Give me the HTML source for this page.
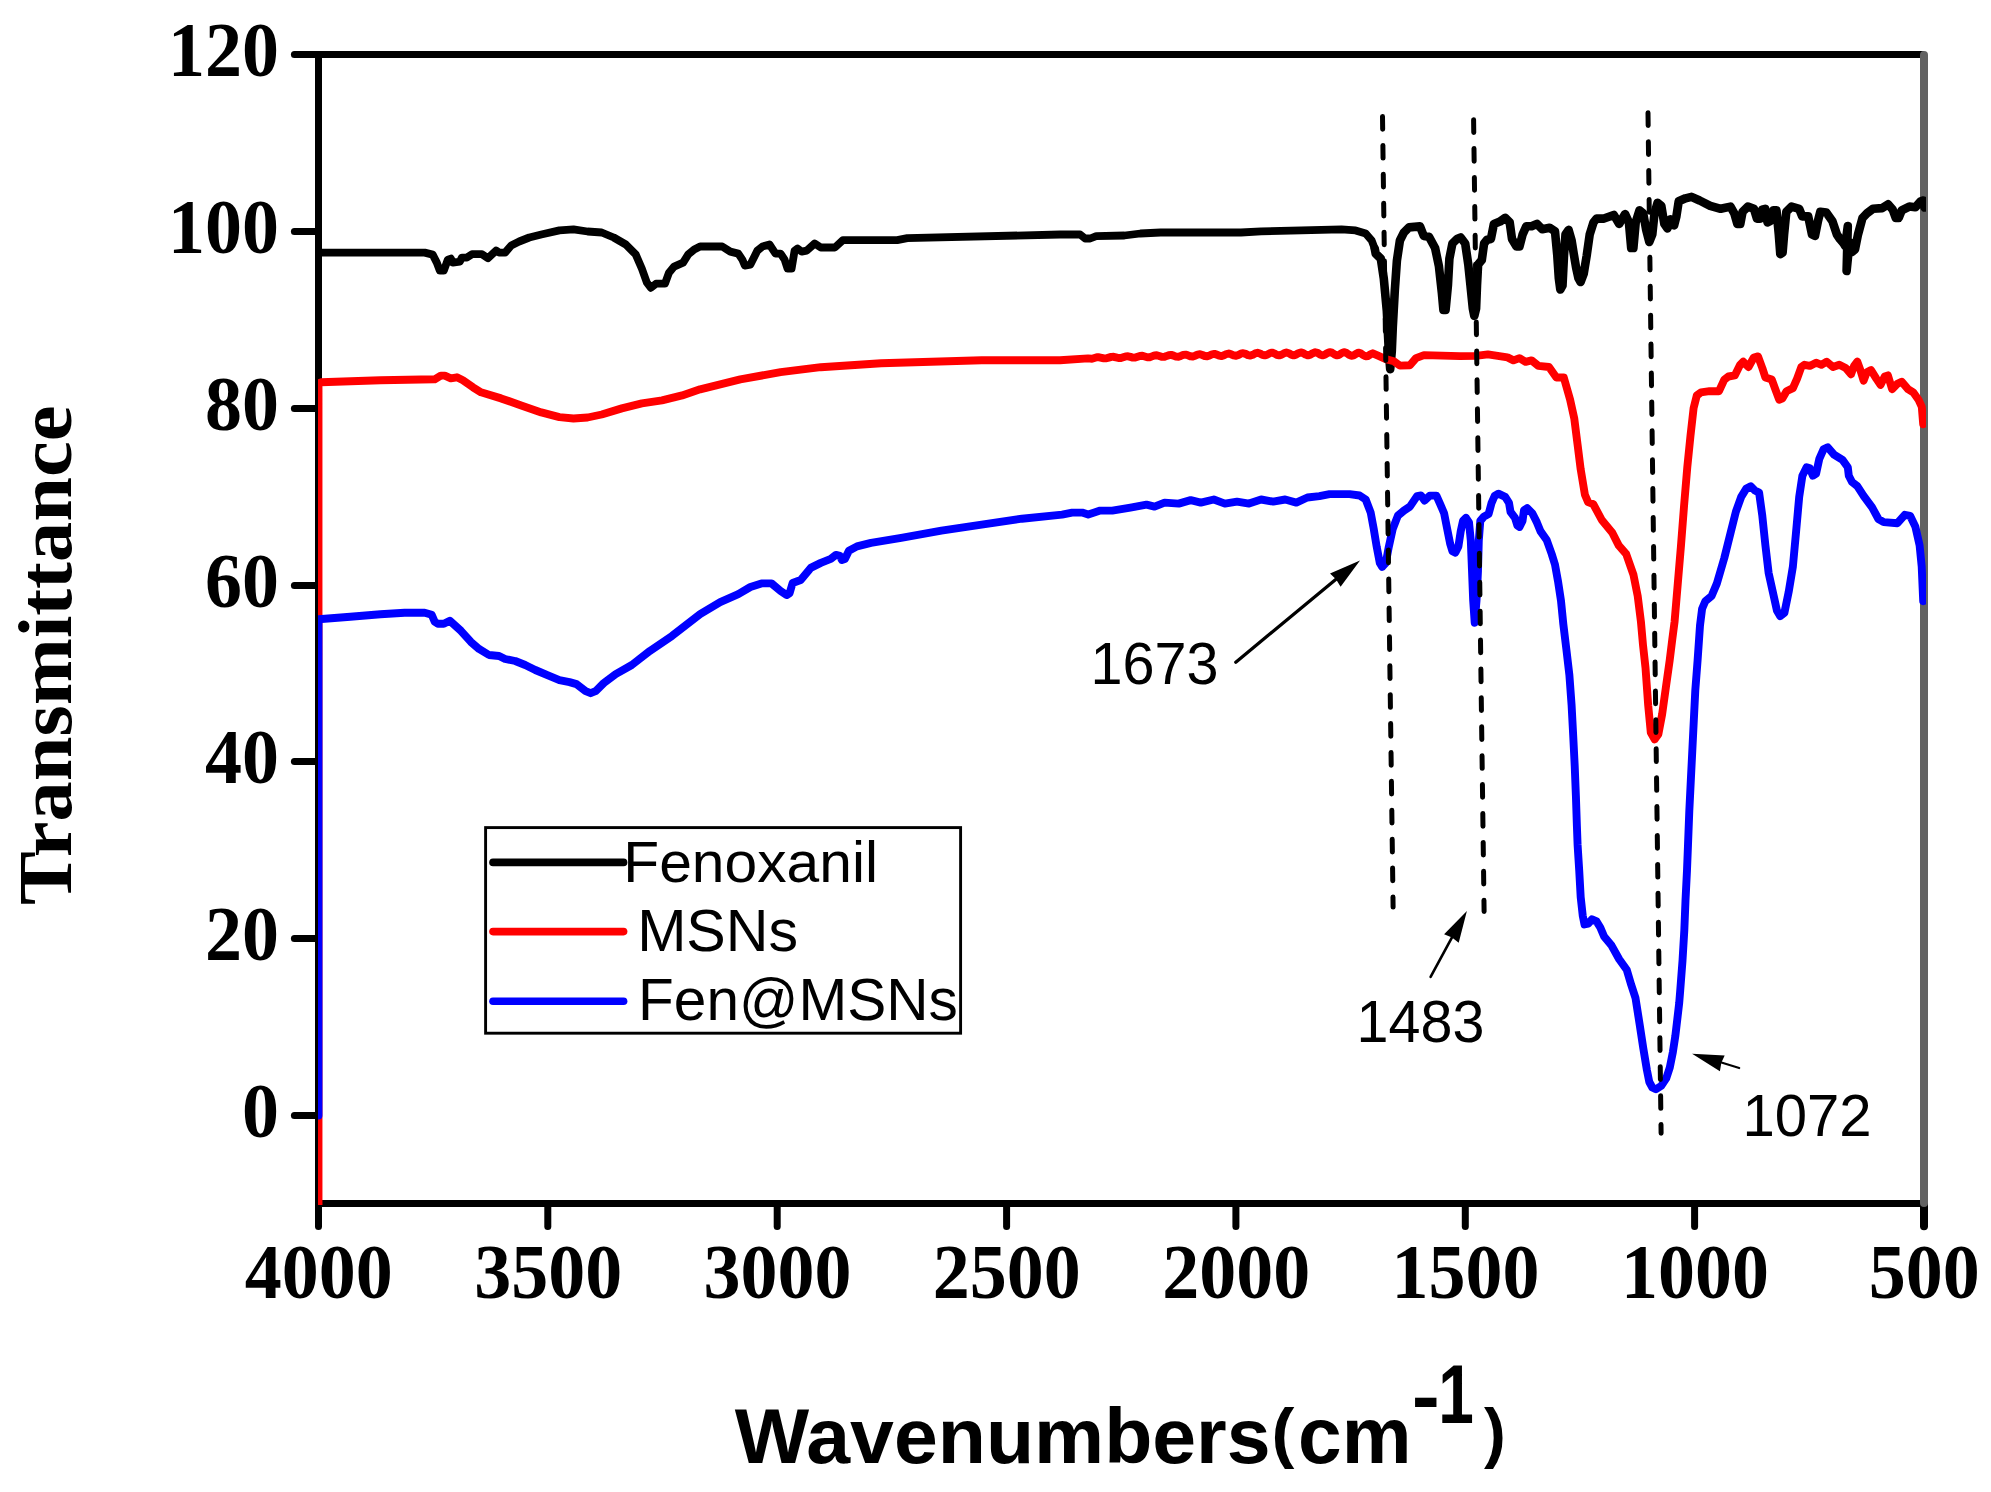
<!DOCTYPE html>
<html lang="en"><head><meta charset="utf-8"><title>FTIR spectra</title>
<style>html,body{margin:0;padding:0;background:#fff}svg{display:block}.tl{font-family:"Liberation Serif",serif;font-weight:bold;font-size:74px;fill:#000}.an{font-family:"Liberation Sans",sans-serif;font-size:55px;fill:#000}.xl{font-family:"Liberation Sans",sans-serif;font-weight:bold;font-size:80px;fill:#000}.yl{font-family:"Liberation Serif",serif;font-weight:bold;font-size:80px;fill:#000}</style></head><body>
<svg width="1991" height="1492" viewBox="0 0 1991 1492" shape-rendering="geometricPrecision">
<rect width="1991" height="1492" fill="#fff"/>
<g stroke="#000" stroke-width="7.0" fill="none">
<line x1="318.5" y1="51.0" x2="318.5" y2="1207.0"/>
<line x1="318.5" y1="54.5" x2="1924.0" y2="54.5"/>
<line x1="318.5" y1="1203.5" x2="1924.0" y2="1203.5"/>
</g>
<g stroke="#000" stroke-width="7.0" stroke-linecap="round" fill="none">
<line x1="294.4" y1="1115.5" x2="318.5" y2="1115.5"/>
<line x1="294.4" y1="938.5" x2="318.5" y2="938.5"/>
<line x1="294.4" y1="761.5" x2="318.5" y2="761.5"/>
<line x1="294.4" y1="585.5" x2="318.5" y2="585.5"/>
<line x1="294.4" y1="408.5" x2="318.5" y2="408.5"/>
<line x1="294.4" y1="231.5" x2="318.5" y2="231.5"/>
<line x1="294.4" y1="54.5" x2="318.5" y2="54.5"/>
<line x1="1694.6" y1="1203.5" x2="1694.6" y2="1226.6"/>
<line x1="1465.3" y1="1203.5" x2="1465.3" y2="1226.6"/>
<line x1="1235.9" y1="1203.5" x2="1235.9" y2="1226.6"/>
<line x1="1006.6" y1="1203.5" x2="1006.6" y2="1226.6"/>
<line x1="777.2" y1="1203.5" x2="777.2" y2="1226.6"/>
<line x1="547.8" y1="1203.5" x2="547.8" y2="1226.6"/>
<line x1="318.5" y1="1203.5" x2="318.5" y2="1226.6"/>
<line x1="1924.0" y1="1203.5" x2="1924.0" y2="1226.2" stroke-width="8"/>
</g>
<line x1="1924.0" y1="55" x2="1924.0" y2="1203" stroke="#626262" stroke-width="8" stroke-linecap="round"/>
<clipPath id="pc"><rect x="318" y="50" width="1608" height="1155"/></clipPath>
<g fill="none" stroke-linejoin="round" stroke-linecap="round" clip-path="url(#pc)">
<polyline stroke="#000" stroke-width="7.8" points="318.5,252.6 424.7,252.6 432.7,254.6 436.8,262.6 439.8,270.7 443.8,270.7 447.8,259.6 450.8,258.6 452.8,262.6 459.9,261.6 461.9,257.6 466.9,257.6 472.0,254.2 482.0,254.2 488.0,258.2 496.1,250.6 499.1,252.6 505.1,252.6 511.2,245.5 519.2,241.5 529.3,237.5 541.3,234.5 559.4,230.4 573.5,229.4 587.6,231.5 601.7,232.5 613.7,237.5 625.8,244.5 635.8,254.6 641.9,268.7 646.9,282.7 650.9,287.8 656.0,283.7 665.0,283.7 669.0,272.7 674.1,266.6 683.1,262.6 688.1,254.6 694.2,249.5 700.1,246.5 722.2,246.5 730.3,251.6 738.3,253.6 742.3,259.6 744.8,265.6 750.4,264.6 757.4,250.6 762.5,246.5 769.5,244.5 775.5,253.6 780.6,253.6 784.6,259.6 787.6,268.7 791.6,268.7 794.6,250.6 797.6,248.5 801.7,251.6 806.7,250.6 814.7,243.5 820.8,247.5 834.9,247.5 842.9,240.1 850.9,240.1 897.2,240.1 907.3,238.1 1060.0,234.5 1080.1,234.5 1085.1,238.5 1090.2,238.5 1096.2,236.1 1124.4,235.5 1140.4,233.5 1160.6,232.5 1241.0,232.5 1261.1,231.4 1301.3,230.4 1341.5,229.4 1355.6,230.4 1365.7,233.5 1371.7,240.5 1374.7,248.5"/>
<polyline stroke="#000" stroke-width="8.6" points="1374.7,248.5 1375.7,253.6 1380.8,258.6 1383.8,278.7 1386.8,310.9 1388.8,351.1 1390.2,369.2 1391.8,351.1 1392.8,327.0 1394.8,290.8 1396.9,260.6 1399.9,240.5 1403.9,232.5 1408.9,227.4 1420.0,226.4 1423.8,236.0 1429.0,236.7 1435.1,248.0 1438.9,266.1 1441.9,293.3 1443.4,309.9 1445.6,309.9 1447.9,285.7 1449.4,258.6 1452.4,243.5 1457.0,239.0 1460.7,237.5 1465.2,243.5 1468.3,264.6 1470.5,285.7 1472.8,308.4 1474.3,315.9 1476.1,308.4 1477.0,285.7 1478.1,264.6 1481.8,260.1 1484.1,243.5 1487.1,239.7 1490.9,239.0 1493.9,223.9 1499.9,221.6 1505.2,217.9 1509.7,222.4 1512.0,239.0 1516.5,246.5 1519.5,246.5 1522.6,234.5 1526.3,226.2 1531.6,226.2 1536.9,223.9 1542.2,229.2 1549.7,227.7 1555.0,231.4 1557.3,255.6 1558.8,278.2 1560.3,289.5 1562.5,285.7 1564.0,255.6 1565.5,234.5 1568.6,229.9 1571.6,240.5 1573.8,254.1 1576.1,267.6 1578.4,278.2 1580.6,282.0 1583.7,273.7 1586.7,255.6 1589.7,234.5 1593.5,222.4 1596.5,218.6 1604.0,218.6 1613.8,214.9 1619.1,223.9 1625.1,214.1 1628.9,222.4 1631.2,248.0 1633.4,248.0 1635.7,222.4 1639.5,210.3 1643.2,213.3 1646.2,229.9 1649.3,242.0 1652.3,234.5 1654.5,213.3 1657.6,202.8 1661.3,205.8 1664.3,223.9 1667.4,228.4 1670.4,219.4 1674.1,225.4 1676.4,216.4 1678.7,201.3 1685.5,198.3 1691.5,196.8 1699.6,200.5 1710.2,205.8 1720.7,208.8 1730.5,206.6 1734.3,213.3 1737.3,223.9 1740.3,223.9 1742.6,211.8 1747.9,206.6 1753.9,208.8 1756.9,218.6 1759.9,218.6 1762.2,209.6 1765.2,208.8 1767.5,222.4 1770.5,220.9 1773.5,210.3 1776.5,210.3 1778.8,234.5 1780.3,254.1 1782.6,252.6 1784.1,234.5 1786.3,211.8 1791.6,206.6 1799.2,208.8 1802.2,216.4 1808.2,216.4 1812.0,234.5 1815.0,236.0 1818.0,220.9 1820.3,211.8 1826.3,212.6 1832.3,220.9 1836.9,234.5 1839.9,239.0 1843.7,243.5 1845.2,246.0 1847.8,226.0 1846.6,271.0 1849.5,242.0 1852.0,252.0 1855.0,249.5 1858.0,234.5 1862.5,217.9 1867.0,213.3 1873.0,208.8 1882.1,208.1 1888.1,204.3 1892.7,209.6 1895.7,217.9 1898.7,217.9 1901.7,210.3 1909.3,206.6 1915.3,207.3 1920.6,201.3 1923.5,200.5 1924.5,207.5 1927.0,204.0"/>
<polyline stroke="#f00" stroke-width="7.9" points="318.5,1206.0 318.5,383.3 321.0,382.3 380.4,380.3 434.7,379.3 440.8,375.6 444.8,375.6 450.8,378.3 456.9,377.3 462.9,380.3 473.0,387.3 481.0,392.3 501.1,398.4 521.2,405.4 541.3,412.4 559.4,417.1 573.5,418.5 587.6,417.5 601.7,414.5 621.8,408.4 641.9,403.4 662.0,400.4 682.1,395.4 700.1,389.3 740.3,379.3 780.6,372.2 820.8,367.2 881.1,363.2 981.7,360.2 1060.0,360.2 1088.0,358.4 1092.0,358.7 1094.4,358.0 1096.8,357.3 1099.2,357.3 1101.6,357.8 1104.0,358.4 1106.4,358.3 1108.8,357.6 1111.2,356.9 1113.6,356.8 1116.0,357.4 1118.4,358.0 1120.8,358.0 1123.2,357.2 1125.6,356.4 1128.0,356.3 1130.4,356.9 1132.8,357.6 1135.2,357.6 1137.6,356.8 1140.0,356.0 1142.4,355.8 1144.8,356.5 1147.2,357.2 1149.6,357.3 1152.0,356.4 1154.4,355.5 1156.8,355.3 1159.2,356.0 1161.6,356.8 1164.0,356.9 1166.4,356.1 1168.8,355.2 1171.2,354.9 1173.6,355.6 1176.0,356.6 1178.4,356.7 1180.8,355.9 1183.2,354.9 1185.6,354.6 1188.0,355.3 1190.4,356.3 1192.8,356.5 1195.2,355.7 1197.6,354.6 1200.0,354.2 1202.4,355.0 1204.8,356.0 1207.2,356.3 1209.6,355.5 1212.0,354.3 1214.4,353.9 1216.8,354.6 1219.2,355.7 1221.6,356.1 1224.0,355.2 1226.4,354.0 1228.8,353.5 1231.2,354.3 1233.6,355.4 1236.0,355.8 1238.4,355.0 1240.8,353.7 1243.2,353.2 1245.6,353.9 1248.0,355.1 1250.4,355.6 1252.8,354.8 1255.2,353.4 1257.6,352.8 1260.0,353.5 1262.4,354.9 1264.8,355.4 1267.2,354.7 1269.6,353.3 1272.0,352.6 1274.4,353.4 1276.8,354.8 1279.2,355.4 1281.6,354.7 1284.0,353.3 1286.4,352.5 1288.8,353.2 1291.2,354.7 1293.6,355.4 1296.0,354.7 1298.4,353.2 1300.8,352.4 1303.2,353.1 1305.6,354.6 1308.0,355.4 1310.4,354.7 1312.8,353.2 1315.2,352.3 1317.6,352.9 1320.0,354.5 1322.4,355.4 1324.8,354.7 1327.2,353.1 1329.6,352.1 1332.0,352.7 1334.4,354.3 1336.8,355.4 1339.2,354.8 1341.6,353.1 1344.0,352.2 1346.4,352.8 1348.8,354.6 1351.2,355.8 1353.6,355.3 1356.0,353.8 1358.4,352.7 1360.8,353.3 1363.2,355.1 1365.6,356.4 1368.0,356.0 1370.4,354.4 1372.8,353.3 1378.0,355.6 1385.8,359.1 1393.8,361.2 1399.9,365.6 1409.9,365.2 1416.0,358.1 1424.0,355.1 1460.0,356.1 1475.8,355.9 1487.9,354.4 1507.5,357.4 1513.5,360.4 1519.5,358.1 1525.6,361.9 1531.6,360.4 1538.4,365.9 1549.0,367.0 1556.4,377.5 1563.8,377.5 1570.1,399.7 1574.3,418.7 1577.5,444.0 1580.7,469.4 1584.9,494.7 1588.1,502.1 1593.3,504.2 1601.8,520.0 1612.3,532.7 1618.7,545.4 1626.1,553.8 1633.5,574.9 1637.7,596.0 1640.9,621.4 1643.0,645.0 1645.5,667.7 1648.2,705.4 1650.8,732.6 1654.6,739.4 1658.4,734.1 1662.1,714.5 1665.9,687.3 1669.7,660.2 1672.2,640.0 1674.6,621.4 1677.8,583.4 1681.0,545.4 1684.1,505.3 1687.3,467.2 1690.5,435.6 1693.6,408.1 1696.8,395.5 1701.0,392.3 1709.5,391.2 1719.0,391.2 1724.3,379.6 1728.5,376.5 1734.8,375.4 1740.1,364.8 1743.3,361.7 1748.5,367.0 1753.8,357.5 1758.0,356.4 1762.3,368.0 1765.4,377.5 1771.8,379.6 1776.0,391.2 1779.2,399.7 1782.3,398.6 1786.5,391.2 1792.9,388.1 1797.1,378.6 1801.3,367.0 1804.5,364.8 1809.8,365.9 1816.1,362.7 1821.4,364.8 1826.7,361.7 1833.0,367.0 1839.3,364.8 1845.7,368.0 1851.0,374.3 1854.1,365.9 1857.3,361.7 1860.4,370.1 1863.6,380.7 1866.8,372.2 1871.0,370.1 1876.3,378.6 1880.5,384.9 1884.7,376.5 1887.9,375.4 1892.1,389.1 1897.4,383.8 1901.6,381.7 1908.0,389.1 1913.2,392.3 1918.5,399.7 1921.8,406.9 1923.2,424.2"/>
<polyline stroke="#00f" stroke-width="7.9" points="318.5,1115.5 318.5,619.2 350.3,616.8 380.4,614.3 404.6,612.7 424.7,612.7 431.7,614.7 434.7,621.8 437.8,623.8 443.8,623.8 449.8,620.8 460.9,630.8 470.9,641.9 479.0,648.9 489.0,655.0 499.1,656.0 505.1,659.0 515.2,661.0 525.2,665.0 535.3,670.0 547.4,675.1 559.4,680.1 569.5,682.1 576.5,684.1 585.6,691.2 590.6,693.2 595.6,691.2 603.7,683.1 615.7,674.1 631.8,665.0 649.9,650.9 672.0,635.9 700.1,614.2 720.2,602.1 738.3,594.1 750.4,587.0 761.4,583.4 771.5,583.4 780.6,591.0 786.6,595.1 789.6,593.1 792.6,583.0 800.7,580.0 810.7,567.9 820.8,562.9 830.8,558.9 835.9,554.9 839.9,555.9 841.9,559.9 844.9,558.9 848.9,550.8 857.0,546.4 871.0,542.8 901.2,537.8 941.4,530.7 981.7,524.7 1021.9,518.7 1062.1,514.6 1072.1,512.6 1082.1,512.6 1088.2,514.6 1100.2,510.6 1112.3,510.6 1130.4,507.6 1146.5,504.6 1154.5,506.6 1164.6,502.6 1178.7,503.6 1190.7,500.1 1200.8,502.6 1213.8,499.5 1224.9,503.6 1237.0,501.6 1249.0,503.6 1261.1,499.5 1273.2,501.6 1285.2,499.5 1296.3,502.6 1307.4,497.5 1319.4,496.1 1329.5,494.1 1349.6,494.1 1359.6,495.5 1365.7,499.5 1370.7,512.6 1373.7,528.7 1376.7,546.8 1379.8,562.9 1382.2,566.9 1385.8,562.9 1388.8,546.8 1392.8,528.7 1397.9,515.6 1403.9,510.6 1409.9,506.6 1417.0,496.1 1421.0,495.5 1424.5,500.6 1429.8,495.6 1436.4,495.6 1440.3,504.3 1444.1,513.3 1447.1,528.4 1450.1,543.5 1452.4,551.1 1455.4,552.6 1458.4,546.5 1460.7,531.4 1463.0,520.9 1466.0,517.9 1469.0,522.4 1470.8,540.5 1472.0,570.7 1473.2,600.8 1474.7,622.7 1476.5,600.8 1478.0,570.7 1478.8,540.5 1480.3,520.9 1484.1,516.4 1488.6,514.1 1491.6,502.8 1494.6,496.0 1498.4,493.7 1505.2,496.8 1509.0,502.8 1510.5,511.8 1515.0,517.9 1517.3,525.4 1519.5,526.9 1522.5,520.9 1524.0,510.3 1527.1,508.1 1532.3,513.3 1536.9,522.4 1540.6,531.4 1546.7,540.0 1551.7,554.0 1555.0,564.6 1558.0,581.2 1561.0,600.8 1563.3,624.0 1566.4,649.6 1569.4,675.2 1571.6,705.4 1573.2,735.6 1574.7,765.7 1575.9,795.9 1576.9,826.1 1577.6,845.0 1579.2,870.2 1580.7,897.3 1582.7,915.4 1584.5,924.5 1588.2,923.7 1592.0,919.2 1596.5,921.4 1600.3,927.5 1604.1,936.5 1611.6,945.6 1619.2,959.2 1626.7,969.7 1631.2,984.8 1635.5,998.0 1639.6,1024.1 1643.3,1048.3 1646.9,1070.0 1649.3,1082.0 1652.3,1087.5 1655.9,1089.3 1661.4,1085.7 1666.2,1078.4 1669.8,1067.6 1672.9,1051.9 1675.3,1036.2 1677.3,1019.3 1679.2,1003.0 1680.2,990.8 1682.5,960.7 1684.3,930.5 1685.5,900.3 1687.0,870.2 1688.0,845.0 1689.3,811.0 1690.8,780.8 1692.3,750.7 1693.8,720.5 1695.3,690.3 1697.6,660.2 1699.0,640.0 1700.0,625.6 1702.1,608.7 1705.3,601.3 1711.6,596.0 1716.9,583.4 1724.3,558.0 1730.6,532.7 1735.9,511.6 1741.2,496.8 1746.4,488.4 1750.7,486.2 1754.9,490.5 1759.1,492.6 1762.3,515.8 1765.4,545.4 1768.6,572.8 1772.8,591.8 1777.0,610.8 1780.2,616.1 1784.4,612.9 1788.7,591.8 1792.9,566.5 1796.0,532.7 1799.2,496.8 1802.4,475.7 1806.6,467.2 1809.8,468.3 1812.9,475.7 1816.1,473.6 1819.3,458.8 1823.5,449.3 1827.7,447.2 1834.0,454.6 1842.5,459.9 1847.8,467.2 1848.8,475.7 1852.0,482.0 1857.3,486.2 1863.6,495.8 1872.1,507.4 1878.4,519.0 1883.7,522.1 1897.4,523.2 1904.8,514.8 1910.1,515.8 1915.3,526.4 1919.6,545.4 1921.7,566.5 1923.2,601.2"/>
</g>
<g stroke="#000" stroke-width="5" stroke-linecap="round" fill="none" stroke-dasharray="12.7 16.21">
<line x1="1382.5" y1="116.5" x2="1393.1" y2="907.1"/>
<line x1="1473.6" y1="119.7" x2="1484.1" y2="911.4"/>
<line x1="1648.0" y1="112.8" x2="1661.1" y2="1133.2"/>
</g>
<text class="tl" text-anchor="end" transform="translate(279.10,1137.00) scale(1.0000,1.0470)">0</text>
<text class="tl" text-anchor="end" transform="translate(279.10,960.00) scale(1.0000,1.0470)">20</text>
<text class="tl" text-anchor="end" transform="translate(279.10,783.00) scale(1.0000,1.0470)">40</text>
<text class="tl" text-anchor="end" transform="translate(279.10,607.00) scale(1.0000,1.0470)">60</text>
<text class="tl" text-anchor="end" transform="translate(279.10,430.00) scale(1.0000,1.0470)">80</text>
<text class="tl" text-anchor="end" transform="translate(279.10,253.00) scale(1.0000,1.0470)">100</text>
<text class="tl" text-anchor="end" transform="translate(279.10,76.00) scale(1.0000,1.0470)">120</text>
<text class="tl" text-anchor="middle" transform="translate(1924.30,1298.00) scale(1.0000,1.0470)">500</text>
<text class="tl" text-anchor="middle" transform="translate(1694.94,1298.00) scale(1.0000,1.0470)">1000</text>
<text class="tl" text-anchor="middle" transform="translate(1465.58,1298.00) scale(1.0000,1.0470)">1500</text>
<text class="tl" text-anchor="middle" transform="translate(1236.22,1298.00) scale(1.0000,1.0470)">2000</text>
<text class="tl" text-anchor="middle" transform="translate(1006.86,1298.00) scale(1.0000,1.0470)">2500</text>
<text class="tl" text-anchor="middle" transform="translate(777.50,1298.00) scale(1.0000,1.0470)">3000</text>
<text class="tl" text-anchor="middle" transform="translate(548.14,1298.00) scale(1.0000,1.0470)">3500</text>
<text class="tl" text-anchor="middle" transform="translate(318.78,1298.00) scale(1.0000,1.0470)">4000</text>
<rect x="485.6" y="827.6" width="475" height="205.6" fill="#fff" stroke="#000" stroke-width="2.9"/>
<g stroke-width="7.6" stroke-linecap="round">
<line x1="493" y1="862.4" x2="623.6" y2="862.4" stroke="#000"/>
<line x1="493" y1="931.6" x2="623.6" y2="931.6" stroke="#f00"/>
<line x1="493" y1="1001.3" x2="623.6" y2="1001.3" stroke="#00f"/>
</g>
<text class="an" transform="translate(623.26,881.70) scale(1.0683,1.0450)">Fenoxanil</text>
<text class="an" transform="translate(637.13,951.20) scale(1.0748,1.0630)">MSNs</text>
<text class="an" transform="translate(638.08,1020.00) scale(1.0645,1.0630)">Fen@MSNs</text>
<text class="an" transform="translate(1090.51,684.20) scale(1.0474,1.0670)">1673</text>
<text class="an" transform="translate(1356.62,1041.90) scale(1.0448,1.0670)">1483</text>
<text class="an" transform="translate(1742.48,1135.90) scale(1.0560,1.0670)">1072</text>
<line x1="1235.8" y1="662.2" x2="1336.0" y2="579.2" stroke="#000" stroke-width="3.3" stroke-linecap="round"/>
<polygon fill="#000" points="1360.0,560.5 1330.0,573.6 1336.0,579.2 1340.6,586.7"/>
<line x1="1430.6" y1="976.8" x2="1452.0" y2="937.4" stroke="#000" stroke-width="2.6" stroke-linecap="round"/>
<polygon fill="#000" points="1466.9,910.9 1444.1,934.2 1452.0,937.4 1458.7,942.8"/>
<line x1="1739.2" y1="1068.0" x2="1721.4" y2="1062.5" stroke="#000" stroke-width="2.2" stroke-linecap="round"/>
<polygon fill="#000" points="1692.1,1053.7 1724.7,1055.5 1721.4,1062.5 1719.9,1071.2"/>
<text class="xl" transform="translate(734.80,1462.82) scale(0.9854,0.9814)">Wavenumbers</text>
<text class="xl" transform="translate(1271.56,1454.57) scale(0.8591,0.8373)">(</text>
<text class="xl" transform="translate(1298.06,1462.81) scale(0.9815,0.9864)">cm</text>
<text class="xl" transform="translate(1411.64,1423.48) scale(1.0550,0.9800)">-</text>
<text class="xl" transform="translate(1438.20,1422.90) scale(0.8000,1.0364)">1</text>
<text class="xl" transform="translate(1484.10,1454.57) scale(0.8174,0.8373)">)</text>
<text class="yl" transform="translate(71.14,905.01) scale(0.9579,1.0065) rotate(-90)">Transmittance</text>
</svg></body></html>
